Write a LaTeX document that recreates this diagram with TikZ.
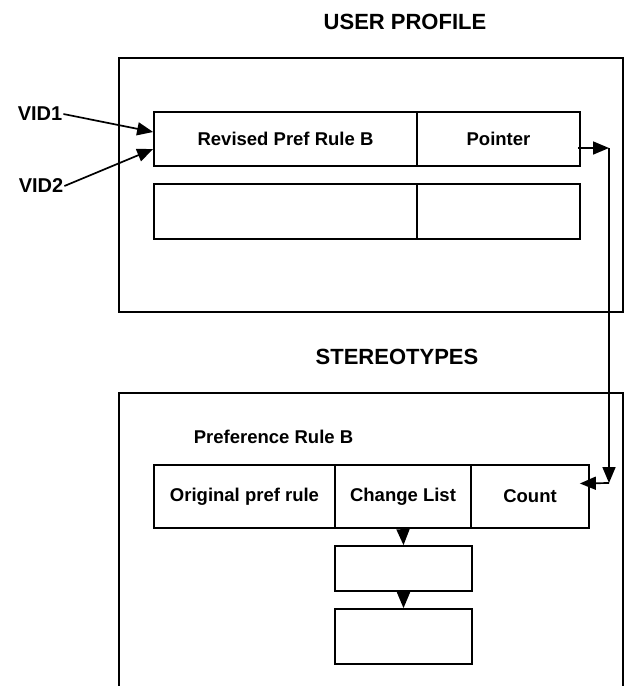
\documentclass[tikz,border=0pt]{standalone}
\usepackage{fontspec}
\setmainfont{Liberation Sans}
\usetikzlibrary{arrows.meta}
\tikzset{
  cell/.style={draw,line width=1.7pt,inner sep=0pt,font=\bfseries\fontsize{18.5}{20}\selectfont},
  outerbox/.style={draw,line width=1.9pt},
  heading/.style={font=\bfseries\fontsize{22}{24}\selectfont},
  vid/.style={font=\bfseries\fontsize{20}{22}\selectfont,inner sep=1pt},
  link/.style={line width=1.7pt,-{Triangle[length=16pt,width=13pt]}}
}

\begin{document}
\begin{tikzpicture}[x=1pt,y=-1pt]
    \useasboundingbox (0,0) rectangle (626,686);
    \clip (0,0) rectangle (626,686);

    \node[heading] (usertitle) at (405,22) {USER PROFILE};
    \node[outerbox,minimum width=504pt,minimum height=254pt] (userbox) at (371,185) {};
    \node[cell,minimum width=263pt,minimum height=54pt] (revised) at (285.5,139) {Revised Pref Rule B};
    \node[cell,minimum width=163pt,minimum height=54pt] (pointer) at (498.5,139) {Pointer};
    \node[cell,minimum width=263pt,minimum height=55pt] (emptyleft) at (285.5,211.5) {};
    \node[cell,minimum width=163pt,minimum height=55pt] (emptyright) at (498.5,211.5) {};

    \node[vid] (vidone) at (40,114) {VID1};
    \node[vid] (vidtwo) at (41,186) {VID2};
    \draw[link] (vidone.east) -- ([yshift=7pt]revised.west);
    \draw[link] (vidtwo.east) -- ([yshift=-10pt]revised.west);

    \node[heading] (stereotitle) at (397,357) {STEREOTYPES};
    \draw[outerbox] (119,700) -- (119,393) -- (623,393) -- (623,700);
    \node[cell,draw=none,anchor=west] (rulename) at (193,437) {Preference Rule B};
    \node[cell,minimum width=181pt,minimum height=63pt] (original) at (244.5,496.5) {Original pref rule};
    \node[cell,minimum width=136pt,minimum height=63pt] (change) at (403,496.5) {Change List};
    \node[cell,minimum width=118pt,minimum height=63pt] (count) at (530,496.5) {Count};
    \node[cell,minimum width=137pt,minimum height=45pt] (listone) at (403.5,568.5) {};
    \node[cell,minimum width=137pt,minimum height=55pt] (listtwo) at (403.5,636.5) {};
    \draw[link] (change.south) -- (listone.north);
    \draw[link] (listone.south) -- (listtwo.north);

    \coordinate (turnA) at (609,148);
    \coordinate (turnB) at (609,483);
    \draw[link] ([xshift=-3pt,yshift=-9pt]pointer.east) -- (turnA);
    \draw[link] (turnA) -- (turnB);
    \draw[link] (turnB) -- ([xshift=-10pt,yshift=13pt]count.east);
\end{tikzpicture}
\end{document}
